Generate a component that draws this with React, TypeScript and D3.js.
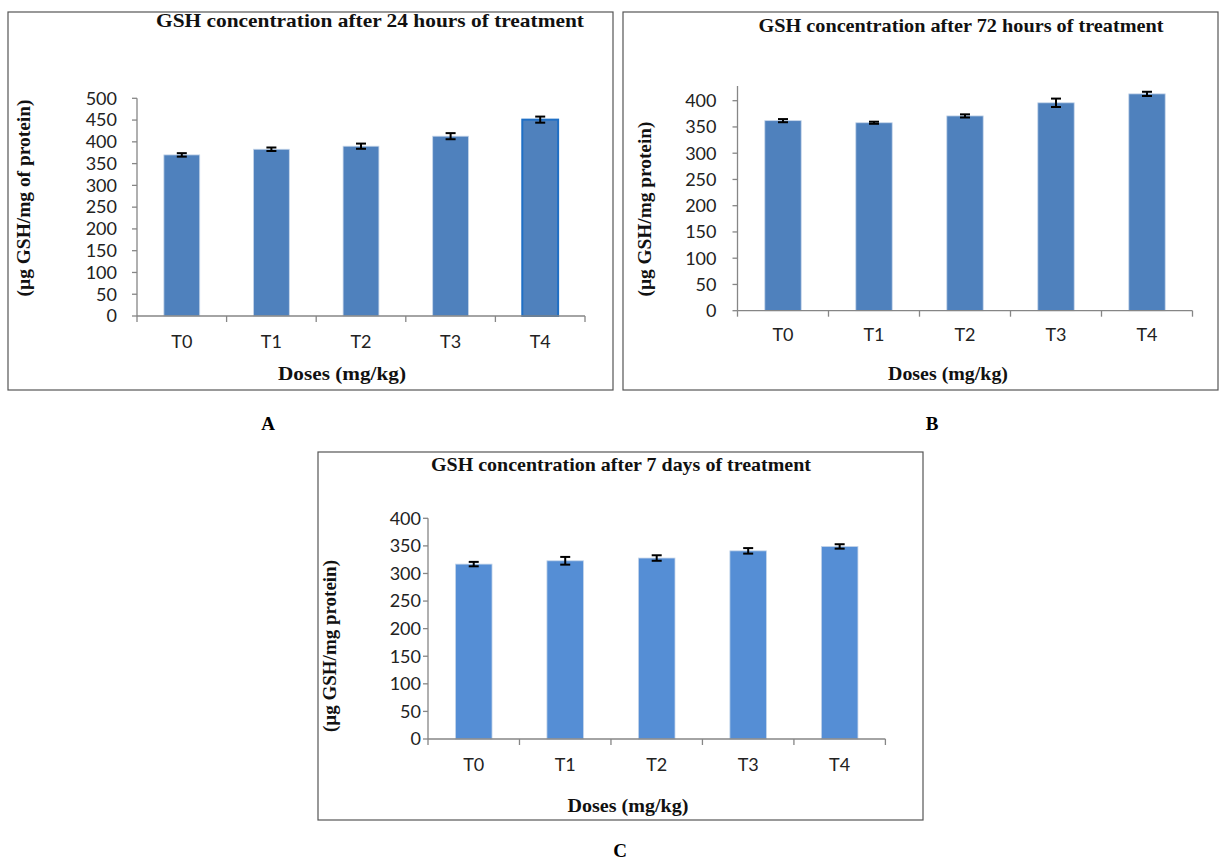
import React from 'react';
import * as d3 from 'd3';

const categories = ['T0', 'T1', 'T2', 'T3', 'T4'];

const gsh24h = [370, 383, 390, 413, 451];
const err24h = [4, 4, 6, 7, 7];
const ticks24h = [0, 50, 100, 150, 200, 250, 300, 350, 400, 450, 500];

const gsh72h = [362, 358, 371, 396, 413];
const err72h = [3, 2, 3, 8, 4];
const ticks72h = [0, 50, 100, 150, 200, 250, 300, 350, 400];

const gsh7d = [317, 323, 328, 341, 349];
const err7d = [4, 7, 5, 5, 4];
const ticks7d = [0, 50, 100, 150, 200, 250, 300, 350, 400];

const serif = '"Liberation Serif", "Times New Roman", serif';
const sans = 'Lato, "Open Sans", sans-serif';

type PanelProps = {
  values: number[];
  errors: number[];
  ticks: number[];
  title: string;
  yTitle: string;
  letter: string;
  box: { x: number; y: number; w: number; h: number };
  plot: { left: number; right: number; top: number; bottom: number };
  axisTop: number;
  titlePos: [number, number, number];
  yTitlePos: [number, number, number];
  xLabelY: number;
  xTitlePos: [number, number, number];
  letterPos: [number, number];
  labelGap: number;
  color: string;
  highlight?: number;
};

function Panel(p: PanelProps) {
  const yMax = p.ticks[p.ticks.length - 1];
  const x = d3.scaleBand<string>().domain(categories).range([p.plot.left, p.plot.right]).padding(0);
  const y = d3.scaleLinear().domain([0, yMax]).range([p.plot.bottom, p.plot.top]);
  const barW = x.bandwidth() * 0.4;
  const boundaries = [...categories.map(c => x(c) as number), p.plot.right];

  return (
    <g>
      <rect x={p.box.x} y={p.box.y} width={p.box.w} height={p.box.h} fill="white" stroke="#555" strokeWidth={1.2} />
      <text x={p.titlePos[0]} y={p.titlePos[1]} textAnchor="middle" fontFamily={serif} fontWeight="bold" fontSize={19} fill="#111"
        textLength={p.titlePos[2]} lengthAdjust="spacingAndGlyphs">
        {p.title}
      </text>

      {/* bars */}
      {p.values.map((v, i) => {
        const cx = (x(categories[i]) as number) + x.bandwidth() / 2;
        const hi = p.highlight === i;
        return (
          <rect key={'b' + i} x={cx - barW / 2} y={y(v)} width={barW} height={y(0) - y(v)}
            fill={p.color} stroke={hi ? '#1F6FC5' : '#c6d6ea'} strokeWidth={hi ? 2 : 0.8} />
        );
      })}

      {/* error bars */}
      {p.values.map((v, i) => {
        const cx = (x(categories[i]) as number) + x.bandwidth() / 2;
        const e = p.errors[i];
        return (
          <g key={'e' + i} stroke="#000" strokeWidth={2}>
            <line x1={cx} x2={cx} y1={y(v + e)} y2={y(v - e)} />
            <line x1={cx - 5} x2={cx + 5} y1={y(v + e)} y2={y(v + e)} />
            <line x1={cx - 5} x2={cx + 5} y1={y(v - e)} y2={y(v - e)} />
          </g>
        );
      })}

      {/* y axis */}
      <line x1={p.plot.left} x2={p.plot.left} y1={y(p.axisTop)} y2={y(0)} stroke="#868686" strokeWidth={1.3} />
      {p.ticks.map(t => (
        <g key={'yt' + t}>
          <line x1={p.plot.left - 5} x2={p.plot.left} y1={y(t)} y2={y(t)} stroke="#868686" strokeWidth={1.3} />
          <text x={p.plot.left - p.labelGap} y={y(t)} dy="0.35em" textAnchor="end" fontFamily={sans} fontSize={18} fill="#222">
            {t}
          </text>
        </g>
      ))}

      {/* x axis */}
      <line x1={p.plot.left} x2={p.plot.right} y1={y(0)} y2={y(0)} stroke="#868686" strokeWidth={1.3} />
      {boundaries.map((bx, i) => (
        <line key={'xt' + i} x1={bx} x2={bx} y1={y(0)} y2={y(0) + 6} stroke="#868686" strokeWidth={1.3} />
      ))}
      {categories.map(c => (
        <text key={'xl' + c} x={(x(c) as number) + x.bandwidth() / 2} y={p.xLabelY} dy="0.35em" textAnchor="middle"
          fontFamily={sans} fontSize={18} fill="#222">
          {c}
        </text>
      ))}

      <text x={p.xTitlePos[0]} y={p.xTitlePos[1]} textAnchor="middle" fontFamily={serif} fontWeight="bold" fontSize={19} fill="#111"
        textLength={p.xTitlePos[2]} lengthAdjust="spacingAndGlyphs">
        Doses (mg/kg)
      </text>
      <text transform={`translate(${p.yTitlePos[0]},${p.yTitlePos[1]}) rotate(-90)`} textAnchor="middle" dominantBaseline="central"
        fontFamily={serif} fontWeight="bold" fontSize={19} fill="#111" textLength={p.yTitlePos[2]} lengthAdjust="spacingAndGlyphs">
        {p.yTitle}
      </text>
      <text x={p.letterPos[0]} y={p.letterPos[1]} textAnchor="middle" fontFamily={serif} fontWeight="bold" fontSize={19} fill="#000">
        {p.letter}
      </text>
    </g>
  );
}

export default function App() {
  return (
    <svg width={1223} height={861} style={{ position: 'absolute', left: 0, top: 0, background: 'white' }}>
      <Panel
        values={gsh24h} errors={err24h} ticks={ticks24h}
        title="GSH concentration after 24 hours  of treatment"
        yTitle="(µg GSH/mg of protein)" letter="A"
        box={{ x: 8, y: 12, w: 605, h: 378 }}
        plot={{ left: 137, right: 585, top: 98.3, bottom: 316 }}
        axisTop={500}
        titlePos={[370, 27, 428]} yTitlePos={[23, 198, 197]} xLabelY={342} xTitlePos={[342, 380, 128]} letterPos={[268, 430]}
        labelGap={20} color="#4F81BD" highlight={4}
      />
      <Panel
        values={gsh72h} errors={err72h} ticks={ticks72h}
        title="GSH concentration after 72 hours  of treatment"
        yTitle="(µg GSH/mg protein)" letter="B"
        box={{ x: 623, y: 12, w: 595, h: 378 }}
        plot={{ left: 737.5, right: 1192.5, top: 100.7, bottom: 310.7 }}
        axisTop={428}
        titlePos={[961, 32, 405]} yTitlePos={[644, 209, 175]} xLabelY={335} xTitlePos={[948, 380, 120]} letterPos={[932, 430]}
        labelGap={21} color="#4F81BD"
      />
      <Panel
        values={gsh7d} errors={err7d} ticks={ticks7d}
        title="GSH concentration after 7 days of treatment"
        yTitle="(µg GSH/mg protein)" letter="C"
        box={{ x: 318, y: 452, w: 605, h: 368 }}
        plot={{ left: 428, right: 885.4, top: 518.3, bottom: 739 }}
        axisTop={400}
        titlePos={[621, 471, 380]} yTitlePos={[329, 646, 172]} xLabelY={765} xTitlePos={[628, 812, 121]} letterPos={[620, 857]}
        labelGap={7} color="#558ED5"
      />
    </svg>
  );
}
